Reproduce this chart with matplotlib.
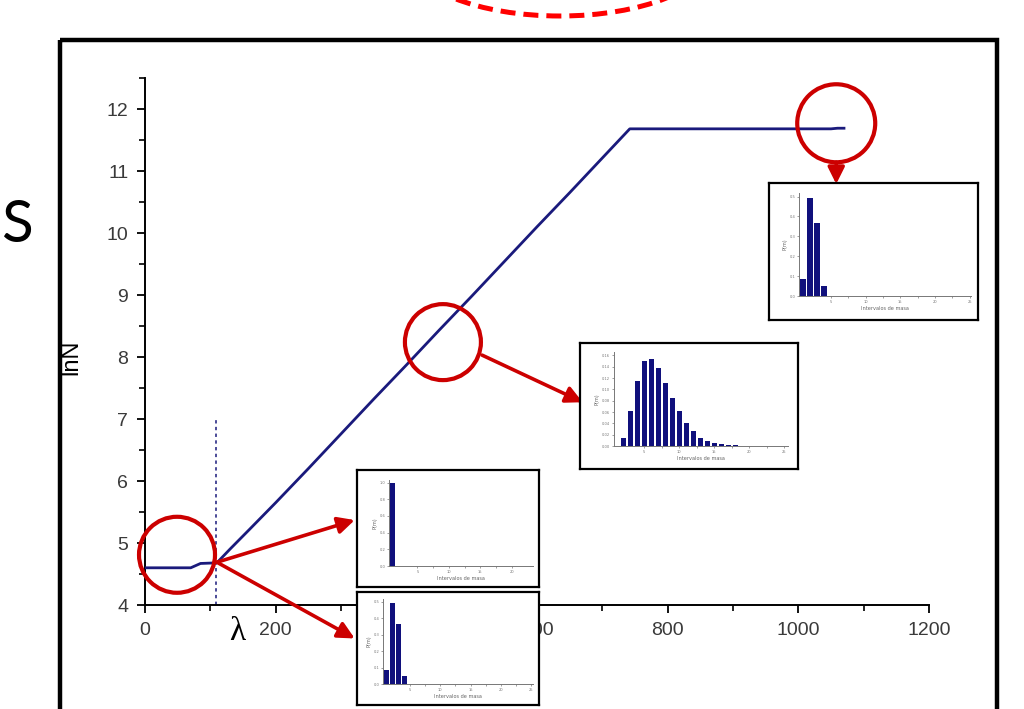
import matplotlib
matplotlib.use("Agg")
import matplotlib.pyplot as plt
from matplotlib.patches import Ellipse, Rectangle
import numpy as np

# ---------------- data ----------------
lam = [0, 70, 85, 110, 130, 160, 200, 250, 300, 350, 400, 450, 500, 550,
       600, 650, 700, 742, 900, 1050, 1060, 1072]
lnN = [4.60, 4.60, 4.67, 4.68, 4.90, 5.22, 5.65, 6.20, 6.76, 7.32, 7.87,
       8.43, 8.98, 9.54, 10.10, 10.65, 11.21, 11.68, 11.68, 11.68, 11.69, 11.69]
lambda_c = 109
x_ticks = [0, 200, 400, 600, 800, 1000, 1200]
y_ticks = [4, 5, 6, 7, 8, 9, 10, 11, 12]

# histogram insets
histA_x = [1, 2, 3, 4]
histA_p = [0.086, 0.495, 0.366, 0.050]
histB_x = list(range(2, 19))
histB_p = [0.015, 0.061, 0.115, 0.150, 0.154, 0.138, 0.112, 0.085, 0.061,
           0.041, 0.026, 0.015, 0.009, 0.005, 0.003, 0.0015, 0.001]
histC_x = [1]
histC_p = [0.99]
histD_x = [1, 2, 3, 4]
histD_p = [0.087, 0.494, 0.366, 0.051]
hist_xlabel = "Intervalos de masa"
hist_ylabel = "P(m)"

W, H = 1024, 709
NAVY = "#1a1a7c"
BARC = "#10107c"
RED = "#cc0000"

fig = plt.figure(figsize=(W / 100, H / 100), dpi=100)
fig.patch.set_facecolor("white")


def prect(x0, y0, x1, y1):
    return [x0 / W, 1 - y1 / H, (x1 - x0) / W, (y1 - y0) / H]


# ---------------- main axes ----------------
ax = fig.add_axes(prect(145, 78, 929, 605))
ax.plot(lam, lnN, color=NAVY, lw=2.0, solid_capstyle="butt", zorder=3)
ax.plot([lambda_c, lambda_c], [4, 7.02], color=NAVY, lw=1.1,
        linestyle=(0, (2.2, 2.2)), zorder=2)
ax.set_xlim(0, 1200)
ax.set_ylim(4, 12.5)
ax.set_xticks(x_ticks)
ax.set_xticks(np.arange(100, 1200, 200), minor=True)
ax.set_yticks(y_ticks)
ax.set_yticks(np.arange(4.5, 12.6, 1.0), minor=True)
for s in ["top", "right"]:
    ax.spines[s].set_visible(False)
for s in ["left", "bottom"]:
    ax.spines[s].set_linewidth(1.4)
ax.tick_params(which="major", length=6, width=1.3, direction="out",
               labelsize=14, labelcolor="#3a3a3a", pad=6)
ax.tick_params(which="minor", length=4, width=1.2, direction="out")
for lab in ax.get_xticklabels() + ax.get_yticklabels():
    lab.set_family("Liberation Sans")
ax.set_ylabel("lnN", fontsize=17, family="Liberation Sans", color="black")
ax.yaxis.set_label_coords(-0.080, 0.4706)
ax.patch.set_alpha(0)

# red circles (radius ~38 px)
def circ(cx, cy, r_px):
    rx = r_px / (784 / 1200)
    ry = r_px / 62.0
    e = Ellipse((cx, cy), 2 * rx, 2 * ry, fill=False, ec=RED, lw=3.0,
                clip_on=False, zorder=6)
    ax.add_patch(e)

circ(49, 4.81, 38)
circ(456, 8.24, 38)
circ(1058, 11.77, 39)

def arrow(x0, y0, x1, y1):
    ax.annotate("", xy=(x1, y1), xytext=(x0, y0), xycoords="data",
                arrowprops=dict(arrowstyle="-|>,head_length=1.0,head_width=0.5",
                                lw=2.6, color=RED, shrinkA=0, shrinkB=0),
                annotation_clip=False, zorder=6)

arrow(110, 4.69, 321, 5.37)
arrow(110, 4.69, 321, 3.46)
arrow(516, 8.03, 670, 7.27)
arrow(1058, 11.14, 1058, 10.79)

fig.text(237 / W, 1 - 632 / H, "λ", fontsize=24, family="Liberation Serif",
         ha="center", va="center")

# ---------------- insets ----------------
def inset(box, inner, xs, ps, width, xlim, ylim, yticks, yfmt, xticks):
    bx = fig.add_axes(prect(*box))
    bx.set_xticks([])
    bx.set_yticks([])
    bx.set_facecolor("white")
    for s in bx.spines.values():
        s.set_linewidth(1.6)
        s.set_color("black")
    ia = fig.add_axes(prect(*inner))
    ia.patch.set_alpha(0)
    ia.bar(xs, ps, width=width, color=BARC, align="center")
    ia.set_xlim(*xlim)
    ia.set_ylim(*ylim)
    ia.set_yticks(yticks)
    ia.set_yticklabels([yfmt.format(v) for v in yticks])
    ia.set_xticks(xticks)
    ia.set_xticklabels([str(v) for v in xticks])
    ia.set_xticks([v + 2.5 for v in xticks[:-1]], minor=True)
    for s in ["top", "right"]:
        ia.spines[s].set_visible(False)
    for s in ["left", "bottom"]:
        ia.spines[s].set_linewidth(0.7)
        ia.spines[s].set_color("#777777")
    ia.tick_params(which="both", length=1.5, width=0.5, colors="#777777",
                   labelsize=2.6, pad=1.2)
    ia.set_xlabel(hist_xlabel, fontsize=3.6, color="#666666", labelpad=1.5)
    ia.set_ylabel(hist_ylabel, fontsize=3.6, color="#666666", labelpad=1.5)
    return ia

inset((769, 183, 978, 320), (799, 193, 971, 296), histA_x, histA_p, 0.8,
      (0.4, 25.2), (0, 0.518), [0, 0.1, 0.2, 0.3, 0.4, 0.5], "{:.1f}",
      [5, 10, 15, 20, 25])
inset((580, 343, 798, 469), (614, 352, 788, 446), histB_x, histB_p, 0.8,
      (0.67, 25.5), (0, 0.166), [0, 0.02, 0.04, 0.06, 0.08, 0.10, 0.12, 0.14, 0.16],
      "{:.2f}", [5, 10, 15, 20, 25])
inset((357, 470, 539, 587), (389, 480, 533, 566), histC_x, histC_p, 0.8,
      (0.47, 23.4), (0, 1.03), [0, 0.2, 0.4, 0.6, 0.8, 1.0], "{:.1f}",
      [5, 10, 15, 20])
inset((357, 592, 539, 705), (383, 599, 533, 684), histD_x, histD_p, 0.9,
      (0.44, 25.4), (0, 0.518), [0, 0.1, 0.2, 0.3, 0.4, 0.5], "{:.1f}",
      [5, 10, 15, 20, 25])

# ---------------- overlay decorations (pixel coordinates) ----------------
ov = fig.add_axes([0, 0, 1, 1])
ov.set_xlim(0, W)
ov.set_ylim(H, 0)
ov.axis("off")
ov.patch.set_alpha(0)
ov.set_zorder(10)
ov.add_patch(Rectangle((60, 40), 937, 700, fill=False, ec="black", lw=3.2,
                       clip_on=False))
ov.add_patch(Ellipse((560, -45), 300, 122, fill=False, ec="#ff0000", lw=3.6,
                     linestyle=(0, (3.0, 1.6)), clip_on=False))
ov.text(1, 226, "S", fontsize=42, family="Lato", ha="left", va="center")

fig.savefig("out.png", dpi=100, facecolor="white")
